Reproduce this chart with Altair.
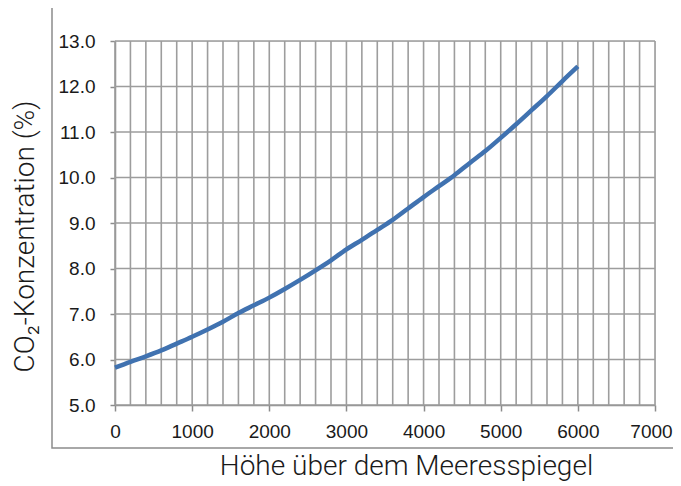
import altair as alt
import pandas as pd

# Height above sea level (m) and CO2 concentration (%)
hoehe = [0, 200, 400, 600, 800, 1000, 1200, 1400, 1600, 1800, 2000, 2200, 2400, 2600, 2800,
         3000, 3200, 3400, 3600, 3800, 4000, 4200, 4400, 4600, 4800, 5000, 5200, 5400, 5600, 5800, 6000]
co2 = [5.82, 5.95, 6.07, 6.20, 6.35, 6.50, 6.66, 6.83, 7.02, 7.19, 7.36, 7.55, 7.75, 7.96, 8.18,
       8.42, 8.63, 8.85, 9.07, 9.32, 9.57, 9.81, 10.05, 10.32, 10.58, 10.87, 11.17, 11.48, 11.79, 12.12, 12.44]

x_grid = list(range(0, 7001, 200))
y_grid = [5, 6, 7, 8, 9, 10, 11, 12, 13]
x_ticks = list(range(0, 7001, 1000))

df = pd.DataFrame({"h": hoehe, "c": co2})
dfx = pd.DataFrame({"g": x_grid})
dfy = pd.DataFrame({"g": y_grid})

X_DOM = [0, 7000]
Y_DOM = [5, 13]
GRID = "#9d9d9d"
AX = "#8c8c8c"
TXT = "#1a1a1a"

xs = alt.Scale(domain=X_DOM, nice=False, zero=False)
ys = alt.Scale(domain=Y_DOM, nice=False, zero=False)

x_axis = alt.Axis(values=x_ticks, format="d", grid=False, tickSize=6, labelFlush=False,
                  labelOffset={"condition": {"test": "datum.value == 7000", "value": -4}, "value": 0},
                  tickColor=AX, tickWidth=1.5, domainColor=AX,
                  domainWidth=1.5, labelFont="Liberation Sans", labelFontSize=19,
                  labelColor=TXT, labelPadding=11,
                  title="Höhe über dem Meeresspiegel", titleFont="Roboto",
                  titleFontSize=28, titleFontWeight=300, titleColor=TXT,
                  titleX=291, titleY=69, titleAlign="center", titleBaseline="alphabetic")
y_axis = alt.Axis(values=y_grid, format=".1f", grid=False, tickSize=5, labelFlush=False,
                  tickColor=AX, tickWidth=1.5, domainColor=AX,
                  domainWidth=1.5, labelFont="Liberation Sans", labelFontSize=19,
                  labelColor=TXT, labelPadding=15,
                  title="CO₂-Konzentration (%)", titleFont="Roboto",
                  titleFontSize=28, titleFontWeight=300, titleColor=TXT,
                  titleX=-90, titleY=195, titleAngle=-90, titleAlign="center",
                  titleBaseline="middle")

frame = alt.Chart(pd.DataFrame({"a": [0]})).mark_rect(
    fill=None, stroke=AX, strokeWidth=1.5
).encode(x=alt.value(-63), x2=alt.value(580), y=alt.value(-34), y2=alt.value(407))

vgrid = alt.Chart(dfx).mark_rule(color=GRID, strokeWidth=1.6).encode(
    x=alt.X("g:Q", scale=xs, axis=x_axis),
    y=alt.value(0), y2=alt.value(364),
)
hgrid = alt.Chart(dfy).mark_rule(color=GRID, strokeWidth=1.6).encode(
    y=alt.Y("g:Q", scale=ys, axis=y_axis),
    x=alt.value(0), x2=alt.value(540),
)

line = alt.Chart(df).mark_line(color="#4072b0", strokeWidth=4.5, interpolate="monotone").encode(
    x=alt.X("h:Q", scale=xs, axis=x_axis),
    y=alt.Y("c:Q", scale=ys, axis=y_axis),
)

chart = alt.layer(frame, vgrid, hgrid, line).properties(
    width=540, height=364,
    autosize=alt.AutoSizeParams(type="none"),
    padding={"left": 107, "top": 33, "right": 18, "bottom": 78},
).configure_view(stroke=None).configure(background="white")

chart.save("out.html", embed_options={"renderer": "svg", "actions": False})
